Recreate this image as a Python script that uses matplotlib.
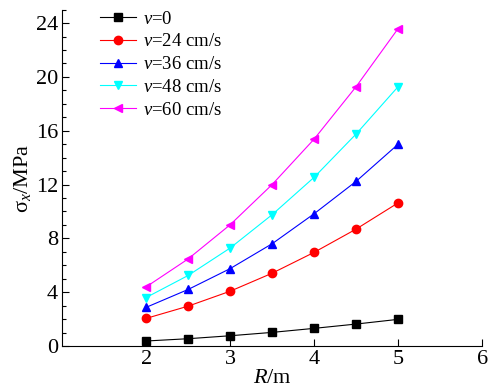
import matplotlib
matplotlib.use('Agg')
import matplotlib.pyplot as plt
from matplotlib.ticker import MultipleLocator

plt.rcParams['font.family'] = ['Liberation Serif', 'DejaVu Serif']
plt.rcParams['mathtext.fontset'] = 'custom'
plt.rcParams['mathtext.rm'] = 'Liberation Serif'
plt.rcParams['mathtext.it'] = 'Liberation Serif:italic'

R = [2, 2.5, 3, 3.5, 4, 4.5, 5]
s0 = [0.37, 0.54, 0.76, 1.01, 1.31, 1.63, 1.98]
s24 = [2.05, 2.96, 4.07, 5.41, 6.96, 8.69, 10.64]
s36 = [2.87, 4.2, 5.75, 7.6, 9.83, 12.24, 15.0]
s48 = [3.6, 5.24, 7.28, 9.76, 12.54, 15.76, 19.28]
s60 = [4.39, 6.47, 9.01, 12.0, 15.38, 19.28, 23.6]

labels = ['$v$=0', '$v$=24 cm/s', '$v$=36 cm/s', '$v$=48 cm/s', '$v$=60 cm/s']
series = [s0, s24, s36, s48, s60]
colors = ['black', 'red', 'blue', 'cyan', 'magenta']
markers = ['s', 'o', '^', 'v', '<']

fig = plt.figure(figsize=(4.89, 3.87), dpi=100)
ax = fig.add_axes([0.127, 0.106, 0.859, 0.869])

for y, c, m, lab in zip(series, colors, markers, labels):
    ax.plot(R, y, color=c, lw=0.8, marker=m, ms=6, mec=c, mfc=c, label=lab)

ax.set_xlim(1, 6)
ax.set_ylim(0, 25)
ax.set_xticks([2, 3, 4, 5, 6])
ax.set_yticks([0, 4, 8, 12, 16, 20, 24])
ax.yaxis.set_minor_locator(MultipleLocator(1))
ax.tick_params(which='major', direction='in', length=5, width=0.8, labelsize=16, pad=3)
ax.tick_params(which='minor', direction='in', length=3, width=0.8)
for s in ['top', 'right']:
    ax.spines[s].set_visible(False)

ax.set_xlabel('$R$/m', fontsize=16, labelpad=0)
ax.set_ylabel('σ$_x$/MPa', fontsize=16, labelpad=2)

ax.legend(loc='upper left', bbox_to_anchor=(0.19, 0.992), bbox_transform=fig.transFigure,
          frameon=False, fontsize=13.5, handlelength=1.9, handletextpad=0.35,
          labelspacing=0.3, borderaxespad=0)

fig.savefig('out.png', dpi=100)
